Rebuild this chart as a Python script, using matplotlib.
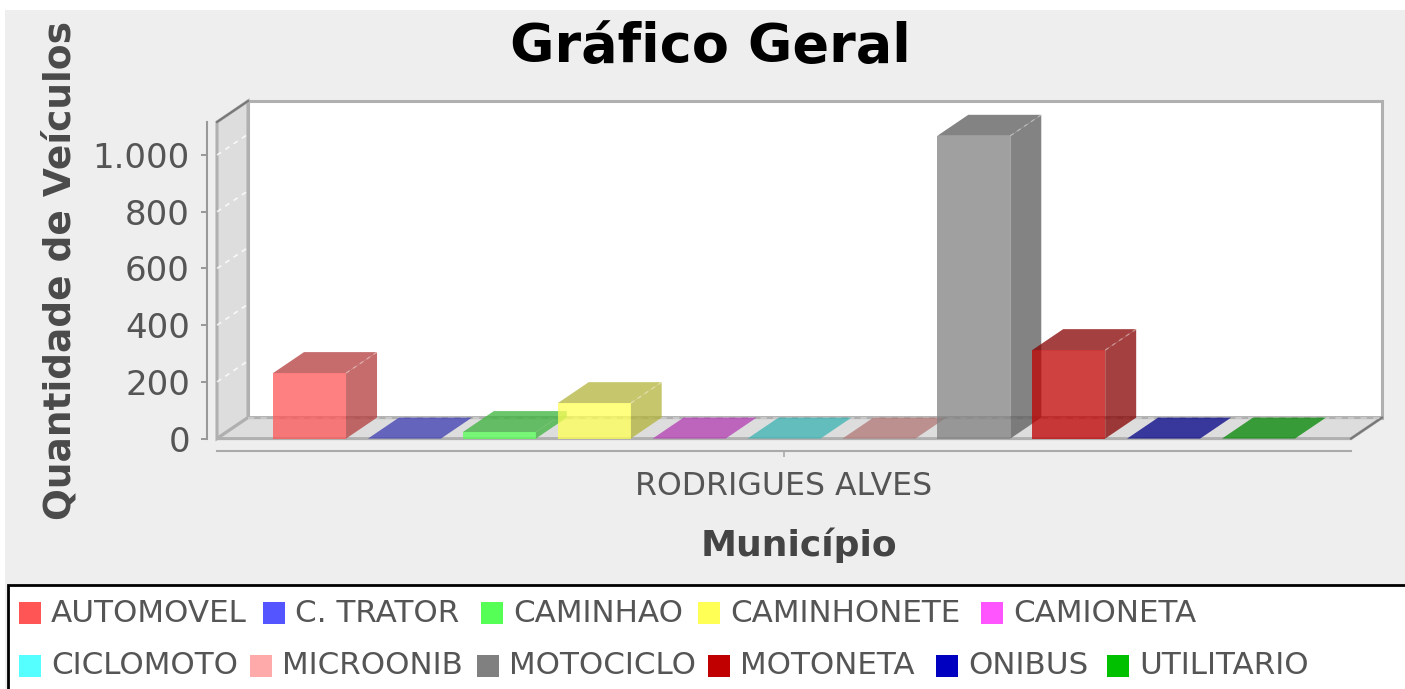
import matplotlib
matplotlib.use('Agg')
import matplotlib.pyplot as plt
from matplotlib.patches import Polygon, Rectangle
import numpy as np

# ---------- data ----------
categories = ['AUTOMOVEL', 'C. TRATOR', 'CAMINHAO', 'CAMINHONETE', 'CAMIONETA', 'CICLOMOTO',
              'MICROONIB', 'MOTOCICLO', 'MOTONETA', 'ONIBUS', 'UTILITARIO']
values = [231, 0, 23, 125, 0, 0, 0, 1068, 312, 0, 0]
colors = ['#FF5555', '#5555FF', '#55FF55', '#FFFF55', '#FF55FF', '#55FFFF',
          '#FFAAAA', '#808080', '#C00000', '#0000C0', '#00C000']
y_ticks = [0, 200, 400, 600, 800, 1000]
y_tick_labels = ['0', '200', '400', '600', '800', '1.000']
municipio = 'RODRIGUES ALVES'

W, H = 1405, 689
BG = '#EEEEEE'
ALPHA = 0.75

fig = plt.figure(figsize=(W/100, H/100), dpi=100, facecolor=BG)

# white margin of the screenshot, top and left
fig.add_artist(Rectangle((0, 1-10/H), 1, 10/H, transform=fig.transFigure, fc='white', ec='none'))
fig.add_artist(Rectangle((0, 0), 5/W, 1, transform=fig.transFigure, fc='white', ec='none'))

ax = fig.add_axes([217/W, 1-438.6/H, 1134/W, 316.6/H])
ax.patch.set_visible(False)
ax.set_xlim(-0.975, 10.975)
ax.set_ylim(0, 1116.7)

# 3D depth in data units (31 px right, 21 px up)
DX = 31/94.9
DY = 21/0.2835
x0, x1 = ax.get_xlim()
y0, y1 = ax.get_ylim()
EDGE = '#B0B0B0'
WALL = '#DDDDDD'

# walls
ax.add_patch(Polygon([(x0+DX, y0+DY), (x1+DX, y0+DY), (x1+DX, y1+DY), (x0+DX, y1+DY)], closed=True,
                     fc='white', ec=EDGE, lw=2.2, clip_on=False, zorder=1))
ax.add_patch(Polygon([(x0, y0), (x0+DX, y0+DY), (x0+DX, y1+DY), (x0, y1)], closed=True,
                     fc=WALL, ec=EDGE, lw=2.2, clip_on=False, zorder=1.1))
ax.add_patch(Polygon([(x0, y0), (x1, y0), (x1+DX, y0+DY), (x0+DX, y0+DY)], closed=True,
                     fc=WALL, ec=EDGE, lw=2.2, clip_on=False, zorder=1.1))
ax.plot([x0, x0+DX], [y1, y1+DY], color='#777777', lw=1.5, clip_on=False, zorder=1.2)
ax.plot([x1, x1+DX], [y0, y0+DY], color='#777777', lw=1.5, clip_on=False, zorder=1.2)
ax.plot([x0+DX, x1+DX], [y0+DY, y0+DY], color='#C8C8C8', lw=1.5, ls=(0, (3, 3)), clip_on=False, zorder=1.2)

# gridlines on the left wall
for t in y_ticks[1:]:
    ax.plot([x0, x0+DX], [t, t+DY], color='white', lw=1.2, ls=(0, (3, 3)), alpha=0.8, clip_on=False, zorder=1.3)


def darker(c):
    return tuple(v*0.7 for v in matplotlib.colors.to_rgb(c))


# bars, left to right so the later ones sit over the earlier ones
bar_w = 73/94.9
for i, (v, c) in enumerate(zip(values, colors)):
    z = 2 + i*0.1
    l, r = i - bar_w/2, i + bar_w/2
    side = darker(c)
    ax.add_patch(Polygon([(r, 0), (r+DX, DY), (r+DX, v+DY), (r, v)], closed=True,
                         fc=side, ec='none', alpha=ALPHA, clip_on=False, zorder=z))
    ax.add_patch(Polygon([(l, v), (r, v), (r+DX, v+DY), (l+DX, v+DY)], closed=True,
                         fc=side, ec='none', alpha=ALPHA, clip_on=False, zorder=z))
    ax.bar(i, v, width=bar_w, color=c, alpha=ALPHA, zorder=z+0.01, clip_on=False)
    if v > 100:
        ax.plot([r, r+DX], [v, v+DY], color='white', lw=1, ls=(0, (3, 3)), alpha=0.35, clip_on=False, zorder=z+0.02)

# axes
for s in ['top', 'right']:
    ax.spines[s].set_visible(False)
ax.spines['left'].set_position(('outward', 7))
ax.spines['bottom'].set_position(('outward', 9))
ax.spines['left'].set_color('#999999')
ax.spines['bottom'].set_color('#AAAAAA')
ax.spines['left'].set_linewidth(1.5)
ax.spines['bottom'].set_linewidth(1.5)
ax.set_yticks(y_ticks)
ax.set_yticklabels(y_tick_labels, fontsize=24.5, color='#555555')
ax.set_xticks([(len(categories)-1)/2])
ax.set_xticklabels([municipio], fontsize=22.7, color='#555555')
ax.tick_params(axis='y', length=4, width=1.2, color='#888888', pad=8.5)
ax.tick_params(axis='x', length=4, width=1.2, color='#AAAAAA', pad=10)

fig.text(710/W, 1-47/H, 'Gráfico Geral', fontsize=39, fontweight='bold', color='black', ha='center', va='center')
fig.text(61/W, 1-270/H, 'Quantidade de Veículos', fontsize=27, color='#4A4A4A', rotation=90, ha='center', va='center',
         fontweight='bold')
fig.text(799/W, 1-545/H, 'Município', fontsize=26, fontweight='bold', color='#444444', ha='center', va='center')

# legend box, swatches at the same left edges as the original
fig.add_artist(Rectangle((8/W, -0.02), 1.02, 0.02+(689-585)/H, transform=fig.transFigure, fc='white', ec='black', lw=2))
rows = [(613, categories[:5], colors[:5], [19, 263, 481, 698, 981]),
        (666, categories[5:], colors[5:], [19, 250, 477, 708, 936, 1107])]
for y, names, cols, xs in rows:
    for x, name, c in zip(xs, names, cols):
        fig.add_artist(Rectangle((x/W, 1-(y+11)/H), 22/W, 22/H, transform=fig.transFigure, fc=c, ec='none'))
        fig.text((x+32)/W, 1-y/H, name, fontsize=22.3, color='#555555', ha='left', va='center')

plt.savefig('out.png', dpi=100, facecolor=BG)
